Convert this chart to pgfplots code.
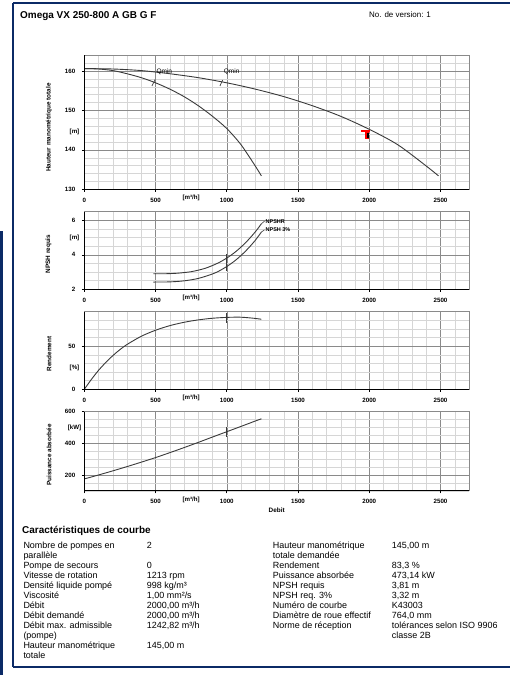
\documentclass[border=0pt]{standalone}
\usepackage{fontspec}
\setmainfont{Liberation Sans}
\usepackage{pgfplots}
\pgfplotsset{compat=1.18}
\definecolor{navy}{HTML}{0B2A66}
\definecolor{curve}{HTML}{3A3A3A}
\definecolor{majgrid}{HTML}{8A8A8A}
\definecolor{mingrid}{HTML}{D6D6D6}

\newcommand{\tickfont}{\bfseries\fontsize{6.2}{7}\selectfont}
\newcommand{\labfont}{\bfseries\fontsize{6.4}{7}\selectfont}
\newcommand{\bodyfont}{\fontsize{9}{10.1}\selectfont}

\pgfplotsset{
  pump/.style={
    scale only axis, width=384.7bp, anchor=south west,
    xmin=0, xmax=2700,
    xtick={0,500,1000,1500,2000,2500},
    xticklabels={0,500,1000,1500,2000,2500},
    minor xtick={0,100,...,2700},
    extra x ticks={750}, extra x tick labels={[m³/h]},
    extra x tick style={grid=none, major tick length=0pt},
    grid=both,
    major grid style={draw=majgrid, line width=0.55bp},
    minor grid style={draw=mingrid, line width=0.45bp},
    axis line style={draw=majgrid, line width=0.6bp},
    tick pos=left, tick align=outside,
    major tick length=2.5bp, minor tick length=0pt,
    tick style={black, line width=0.6bp},
    tick label style={font=\tickfont},
    x tick label style={yshift=-2.5bp},
    y tick label style={xshift=-3bp},
    clip mode=individual,
  },
  pc/.style={curve, line width=0.9bp, smooth},
}

\begin{document}
\begin{tikzpicture}
\useasboundingbox (0,0) rectangle (510bp,675bp);

% page frame
\fill[navy] (0,0) rectangle (3.4bp,444bp);
\draw[navy, line width=2bp] (510bp,672bp) -- (13bp,672bp);
\draw[navy, line width=1.3bp] (13bp,672bp) -- (13bp,8bp);
\draw[navy, line width=2bp] (12.5bp,8bp) -- (510bp,8bp);

\node[anchor=base west, inner sep=0, font=\bfseries\fontsize{10}{12}\selectfont] at (20bp,656.4bp) {Omega VX 250-800 A GB G F};
\node[anchor=base west, inner sep=0, font=\fontsize{8}{9}\selectfont] at (369bp,657.4bp) {No. de version: 1};

% ---------- hauteur
\begin{axis}[pump, at={(84.3bp,485.7bp)}, height=134.1bp,
  ymin=130, ymax=164, ytick={130,140,150,160}, yticklabels={130,140,150,160},
  minor ytick={130,132,...,164}]
\addplot[pc] coordinates {
(0,160.6) (100,160.5) (200,160.1) (300,159.3) (400,158.3) (500,157.0)
(600,155.4) (700,153.5) (800,151.2) (900,148.5) (1000,145.4) (1100,141.3)
(1200,135.9) (1243,133.4)};
\addplot[pc] coordinates {
(0,160.6) (200,160.5) (400,160.1) (600,159.3) (800,158.3) (1000,157.0)
(1200,155.4) (1400,153.5) (1600,151.2) (1800,148.5) (2000,145.2) (2200,141.3)
(2400,135.9) (2486,133.4)};
\addplot[curve, line width=0.7bp] coordinates {(475,156.2) (498,157.9)};
\addplot[curve, line width=0.7bp] coordinates {(952,156.2) (971,157.7)};
\addplot[red, line width=4bp] coordinates {(1985,144.6) (1985,142.8)};
\addplot[black, line width=2bp] coordinates {(1988,144.3) (1988,142.9)};
\addplot[red, line width=1.6bp] coordinates {(1942,144.85) (2003,144.85)};
\node[anchor=west, inner sep=0.5bp, font=\fontsize{6.5}{7}\selectfont] at (axis cs:502,159.7) {Qmin};
\node[anchor=west, inner sep=0.5bp, font=\fontsize{6.5}{7}\selectfont] at (axis cs:975,159.7) {Qmin};
\draw[black, line width=0.8bp] (rel axis cs:0,1) -- (rel axis cs:0,0) -- (rel axis cs:1,0);
\end{axis}

% ---------- NPSH
\begin{axis}[pump, at={(84.3bp,385.7bp)}, height=77.6bp,
  ymin=2, ymax=6.5, ytick={2,4,6}, yticklabels={2,4,6},
  minor ytick={2,2.5,...,6.5}]
\addplot[pc] coordinates {
(485,2.90) (550,2.90) (600,2.91) (650,2.93) (700,2.97) (750,3.02) (800,3.11)
(850,3.22) (900,3.38) (950,3.57) (1000,3.81) (1050,4.10) (1100,4.45)
(1150,4.86) (1200,5.33) (1243,5.80)};
\addplot[pc] coordinates {
(485,2.42) (600,2.43) (700,2.49) (800,2.63) (900,2.89) (950,3.08) (1000,3.32)
(1050,3.61) (1100,3.96) (1150,4.37) (1200,4.84) (1243,5.32)};
\addplot[curve, line width=0.6bp] coordinates {(1243,5.80) (1265,5.95)};
\addplot[curve, line width=0.6bp] coordinates {(1243,5.32) (1265,5.45)};
\addplot[curve, line width=1.4bp] coordinates {(1000,3.06) (1000,4.07)};
\node[anchor=west, inner sep=0.5bp, font=\bfseries\fontsize{5.5}{6}\selectfont] at (axis cs:1268,5.95) {NPSHR};
\node[anchor=west, inner sep=0.5bp, font=\bfseries\fontsize{5.5}{6}\selectfont] at (axis cs:1268,5.45) {NPSH 3\%};
\draw[black, line width=0.8bp] (rel axis cs:0,1) -- (rel axis cs:0,0) -- (rel axis cs:1,0);
\end{axis}

% ---------- rendement
\begin{axis}[pump, at={(84.3bp,285.7bp)}, height=77.6bp,
  ymin=0, ymax=90, ytick={0,50}, yticklabels={0,50},
  minor ytick={0,10,...,90}]
\addplot[pc] coordinates {
(0,0) (50,11.5) (100,22) (150,31) (200,39) (250,46) (300,52) (400,61.5)
(500,68.5) (600,73.8) (700,77.7) (800,80.5) (900,82.4) (1000,83.4)
(1100,83.6) (1200,82.2) (1243,81.2)};
\addplot[curve, line width=1.4bp] coordinates {(1000,77.3) (1000,88.2)};
\draw[black, line width=0.8bp] (rel axis cs:0,1) -- (rel axis cs:0,0) -- (rel axis cs:1,0);
\end{axis}

% ---------- puissance
\begin{axis}[pump, at={(84.3bp,184.2bp)}, height=79.1bp,
  ymin=100, ymax=600, ytick={200,400,600}, yticklabels={200,400,600},
  minor ytick={100,150,...,600}]
\addplot[pc] coordinates {
(0,175) (100,200) (200,226) (300,253) (400,281) (500,310) (600,341)
(700,373) (800,406) (900,440) (1000,473.5) (1100,507) (1200,541) (1243,555)};
\addplot[curve, line width=1.4bp] coordinates {(1000,442) (1000,502)};
\draw[black, line width=0.8bp] (rel axis cs:0,1) -- (rel axis cs:0,0) -- (rel axis cs:1,0);
\end{axis}

% axis titles and units
\node[rotate=90, font=\labfont] at (49bp,547.5bp) {Hauteur manométrique totale};
\node[rotate=90, font=\labfont] at (48.5bp,421bp) {NPSH requis};
\node[rotate=90, font=\labfont] at (49bp,321bp) {Rendement};
\node[rotate=90, font=\labfont] at (49bp,220bp) {Puissance absorbée};
\node[font=\tickfont] at (74.5bp,543.3bp) {[m]};
\node[font=\tickfont] at (74.5bp,437.3bp) {[m]};
\node[font=\tickfont] at (74.5bp,306.7bp) {[\%]};
\node[font=\tickfont] at (74.5bp,246.7bp) {[kW]};
\node[font=\labfont] at (276.7bp,164.3bp) {Debit};

% characteristics
\node[anchor=base west, inner sep=0, font=\bfseries\fontsize{10}{12}\selectfont] at (22bp,141.4bp) {Caractéristiques de courbe};
\node[anchor=base west, inner sep=0, font=\bodyfont] at (23.3bp,126.8bp) {%
\begin{tabular}[t]{@{}p{123.4bp}@{}l@{}}
Nombre de pompes en & 2\\
parallèle & \\
Pompe de secours & 0\\
Vitesse de rotation & 1213 rpm\\
Densité liquide pompé & 998 kg/m³\\
Viscosité & 1,00 mm²/s\\
Débit & 2000,00 m³/h\\
Débit demandé & 2000,00 m³/h\\
Débit max. admissible & 1242,82 m³/h\\
(pompe) & \\
Hauteur manométrique & 145,00 m\\
totale &
\end{tabular}};
\node[anchor=base west, inner sep=0, font=\bodyfont] at (272.7bp,126.8bp) {%
\begin{tabular}[t]{@{}p{119bp}@{}l@{}}
Hauteur manométrique & 145,00 m\\
totale demandée & \\
Rendement & 83,3 \%\\
Puissance absorbée & 473,14 kW\\
NPSH requis & 3,81 m\\
NPSH req. 3\% & 3,32 m\\
Numéro de courbe & K43003\\
Diamètre de roue effectif & 764,0 mm\\
Norme de réception & tolérances selon ISO 9906\\
 & classe 2B
\end{tabular}};
\end{tikzpicture}
\end{document}
